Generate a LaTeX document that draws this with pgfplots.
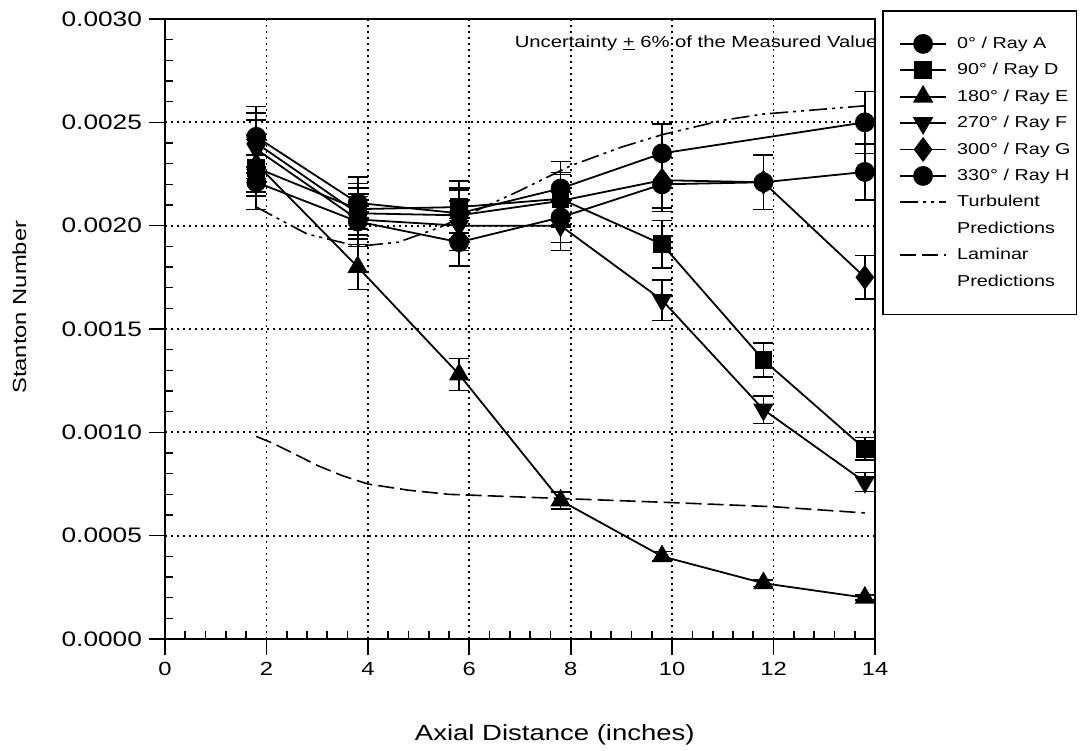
\documentclass[border=0pt]{standalone}
\usepackage{pgfplots}
\pgfplotsset{compat=1.18}
\usepackage{fontspec}
\setmainfont{Liberation Sans}[FakeStretch=1.25]

\pgfplotstableread{
x y
1.8 0.00243
3.8 0.00211
5.8 0.00206
7.8 0.00218
9.8 0.00235
13.8 0.00250
}\rayA
\pgfplotstableread{
x y
1.8 0.00228
3.8 0.00208
5.8 0.00209
7.8 0.00213
9.8 0.00191
11.8 0.00135
13.8 0.00092
}\rayD
\pgfplotstableread{
x y
1.8 0.00230
3.8 0.00180
5.8 0.00128
7.8 0.00067
9.8 0.00040
11.8 0.00027
13.8 0.00020
}\rayE
\pgfplotstableread{
x y
1.8 0.00237
3.8 0.00203
5.8 0.00200
7.8 0.00200
9.8 0.00164
11.8 0.00111
13.8 0.00076
}\rayF
\pgfplotstableread{
x y
1.8 0.00240
3.8 0.00206
5.8 0.00205
7.8 0.00212
9.8 0.00222
11.8 0.00221
13.8 0.00175
}\rayG
\pgfplotstableread{
x y
1.8 0.00221
3.8 0.00202
5.8 0.00192
7.8 0.00204
9.8 0.00220
11.8 0.00221
13.8 0.00226
}\rayH
\pgfplotstableread{
x y
1.8 0.00209
2.8 0.00196
3.8 0.00190
4.6 0.00192
5.4 0.00199
6.2 0.00208
7.0 0.00217
8.0 0.00229
9.0 0.00238
9.8 0.00244
11.0 0.00251
11.8 0.00254
13.8 0.00258
}\turb
\pgfplotstableread{
x y
1.8 0.00098
2.1 0.00095
2.6 0.00089
3.0 0.00084
3.5 0.00079
4.0 0.00075
4.8 0.00072
5.6 0.00070
7.8 0.00068
10.0 0.00066
12.0 0.00064
13.8 0.00061
}\lam

\begin{document}
\begin{tikzpicture}[x=1pt,y=1pt]
\path[use as bounding box] (-82.5pt,-55.5pt) rectangle (457.5pt,319.5pt);
\begin{axis}[
  at={(0pt,0pt)}, anchor=south west,
  scale only axis, width=355pt, height=310pt,
  xmin=0, xmax=14, ymin=0, ymax=0.003,
  xtick={0,2,...,14}, ytick={0,0.0005,...,0.00301},
  minor x tick num=4, minor y tick num=4,
  xtick pos=bottom, ytick pos=left,
  tick align=outside,
  major tick length=8pt, minor tick length=-4pt,
  every tick/.style={black, line width=0.8pt},
  axis line style={line width=0.9pt},
  grid=major,
  grid style={black, line width=0.9pt, dash pattern=on 0.9pt off 2.1pt},
  scaled y ticks=false,
  yticklabel style={font=\fontsize{10.5}{12}\selectfont, /pgf/number format/.cd, fixed, fixed zerofill, precision=4, assume math mode=true},
  xticklabel style={font=\fontsize{9.5}{11}\selectfont, /pgf/number format/assume math mode=true},
  xlabel={Axial Distance (inches)},
  ylabel={Stanton Number},
  xlabel style={font=\fontsize{11}{12}\selectfont, at={(axis description cs:0.549,-0.155)}, anchor=center},
  ylabel style={font=\fontsize{9.5}{11}\selectfont, at={(axis description cs:-0.205,0.535)}, anchor=center},
  legend style={at={(rel axis cs:1.0099,1.0145)}, anchor=north west,
    draw=black, line width=0.9pt, font=\fontsize{7.9}{9}\selectfont,
    nodes={text height=6.3pt, text depth=1.7pt, inner ysep=2pt, inner xsep=0pt},
    column sep=0pt,
    /tikz/every even column/.style={column sep=0pt},
    /tikz/every odd column/.style={column sep=0pt},
    row sep=1.2pt, inner xsep=3pt, inner ysep=10.5pt},
  legend cell align=left,
  legend image code/.code={%
    \path[use as bounding box, draw=none, fill=none] (0cm,-2pt) rectangle (1.2cm,2pt);
    \draw[line width=0.9pt, mark repeat=2,mark phase=2] plot coordinates {(0.2cm,0cm) (0.6cm,0cm) (1.0cm,0cm)};},
  every axis plot/.append style={black, line width=0.9pt},
  error bars/y dir=both, error bars/y fixed relative=0.06,
  error bars/error bar style={line width=0.8pt, black},
  error bars/error mark options={black, line width=0.8pt, mark size=5pt, rotate=90},
]
\addplot[mark=*, mark size=4.5pt] table {\rayA};
\addlegendentry{0° / Ray A}
\addplot[mark=square*, mark size=4pt] table {\rayD};
\addlegendentry{90° / Ray D}
\addplot[mark=triangle*, mark size=5pt] table {\rayE};
\addlegendentry{180° / Ray E}
\addplot[mark=triangle*, mark size=5pt, every mark/.append style={rotate=180}] table {\rayF};
\addlegendentry{270° / Ray F}
\addplot[mark=diamond*, mark size=5.5pt] table {\rayG};
\addlegendentry{300° / Ray G}
\addplot[mark=*, mark size=4.5pt] table {\rayH};
\addlegendentry{330° / Ray H}
\addplot[no marks, line width=0.8pt, dash pattern=on 9pt off 2.5pt on 1.5pt off 2.5pt on 1.5pt off 2.5pt, error bars/y dir=none] table {\turb};
\addlegendentry{Turbulent}
\addlegendimage{draw opacity=0, no markers}
\addlegendentry{Predictions}
\addplot[no marks, line width=0.8pt, dash pattern=on 8pt off 3pt, error bars/y dir=none] table {\lam};
\addlegendentry{Laminar}
\addlegendimage{draw opacity=0, no markers}
\addlegendentry{Predictions}
\node[anchor=east, font=\fontsize{8.1}{10}\selectfont, inner sep=0pt] at (rel axis cs:1.004,0.961) {Uncertainty \underline{+} 6\% of the Measured Value};
\end{axis}
\end{tikzpicture}
\end{document}
